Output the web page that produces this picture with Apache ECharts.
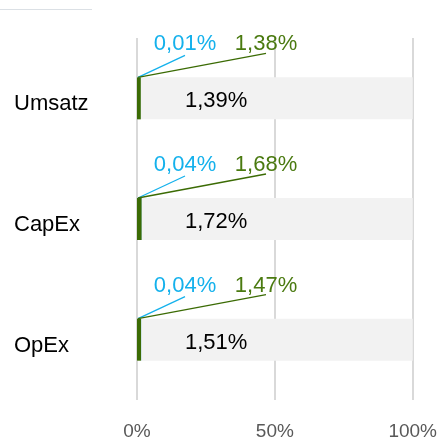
<!DOCTYPE html>
<html>
<head>
<meta charset="utf-8">
<script src="https://cdn.jsdelivr.net/npm/echarts@6/dist/echarts.min.js"></script>
<style>
  html, body { margin: 0; padding: 0; background: #fff; }
  #chart { width: 440px; height: 444px; }
</style>
</head>
<body>
<div id="chart"></div>
<script>
// categories and values (percent)
const categories = ['Umsatz', 'CapEx', 'OpEx'];
const greenValues = [1.38, 1.68, 1.47];
const blueValues = [0.01, 0.04, 0.04];
const totalValues = [1.39, 1.72, 1.51];
const fullValues = [100, 100, 100];
const xTicks = [0, 50, 100];

const GREEN = '#3b6b04';
const GREEN_TXT = '#4a7a10';
const BLUE = '#14b1ec';
const FONT = '"Liberation Sans", Arial, sans-serif';

const fmt = v => v.toFixed(2).replace('.', ',') + '%';

const chart = echarts.init(document.getElementById('chart'));

chart.setOption({
  animation: false,
  grid: { left: 137, right: 27, top: 38, bottom: 44, containLabel: false },
  graphic: [{
    type: 'line',
    shape: { x1: 0, y1: 9.5, x2: 92, y2: 9.5 },
    style: { stroke: '#dbe0e5', lineWidth: 1 }
  }],
  xAxis: {
    type: 'value',
    min: xTicks[0],
    max: xTicks[xTicks.length - 1],
    interval: 50,
    axisLine: { show: false },
    axisTick: { show: false },
    splitLine: { lineStyle: { color: '#d9d9d9', width: 2 } },
    axisLabel: {
      margin: 22,
      color: '#595959',
      fontSize: 19,
      fontFamily: FONT,
      formatter: v => v + '%'
    }
  },
  yAxis: {
    type: 'category',
    data: categories,
    inverse: true,
    axisLine: { show: false },
    axisTick: { show: false },
    axisLabel: {
      align: 'left',
      margin: 123,
      formatter: v => '{c|' + v + '}',
      rich: {
        c: {
          color: '#000',
          fontSize: 22,
          fontFamily: FONT,
          padding: [12, 0, 0, 0]
        }
      }
    }
  },
  series: [
    {
      type: 'bar',
      data: fullValues,
      barWidth: 42,
      barGap: '-100%',
      itemStyle: { color: '#f2f2f2' },
      silent: true,
      z: 1,
      label: {
        show: true,
        position: 'insideLeft',
        offset: [43, 3],
        color: '#000',
        fontSize: 22,
        fontFamily: FONT,
        formatter: p => fmt(totalValues[p.dataIndex])
      }
    },
    {
      type: 'bar',
      stack: 'eu',
      data: greenValues,
      barWidth: 42,
      itemStyle: { color: GREEN },
      z: 3
    },
    {
      type: 'bar',
      stack: 'eu',
      data: blueValues,
      barWidth: 42,
      itemStyle: { color: BLUE },
      z: 3
    },
    {
      // leader lines and small labels above each bar
      type: 'custom',
      data: categories.map((c, i) => [0, i, greenValues[i], blueValues[i]]),
      encode: { x: 0, y: 1 },
      z: 4,
      renderItem: (params, api) => {
        const base = api.coord([api.value(0), api.value(1)]);
        const half = 21;
        const ox = base[0] + 1;
        const oy = base[1] - half;
        const g = fmt(api.value(2));
        const b = fmt(api.value(3));
        return {
          type: 'group',
          children: [
            { type: 'line', shape: { x1: ox, y1: oy, x2: ox + 47, y2: oy - 22 },
              style: { stroke: BLUE, lineWidth: 1.3 } },
            { type: 'line', shape: { x1: ox, y1: oy, x2: ox + 128, y2: oy - 24 },
              style: { stroke: GREEN, lineWidth: 1.3 } },
            { type: 'text', x: base[0] + 48, y: oy - 33,
              style: { text: b, fill: BLUE, font: '22px ' + FONT, align: 'center', verticalAlign: 'middle' } },
            { type: 'text', x: base[0] + 129, y: oy - 33,
              style: { text: g, fill: GREEN_TXT, font: '22px ' + FONT, align: 'center', verticalAlign: 'middle' } }
          ]
        };
      }
    }
  ]
});
</script>
</body>
</html>
